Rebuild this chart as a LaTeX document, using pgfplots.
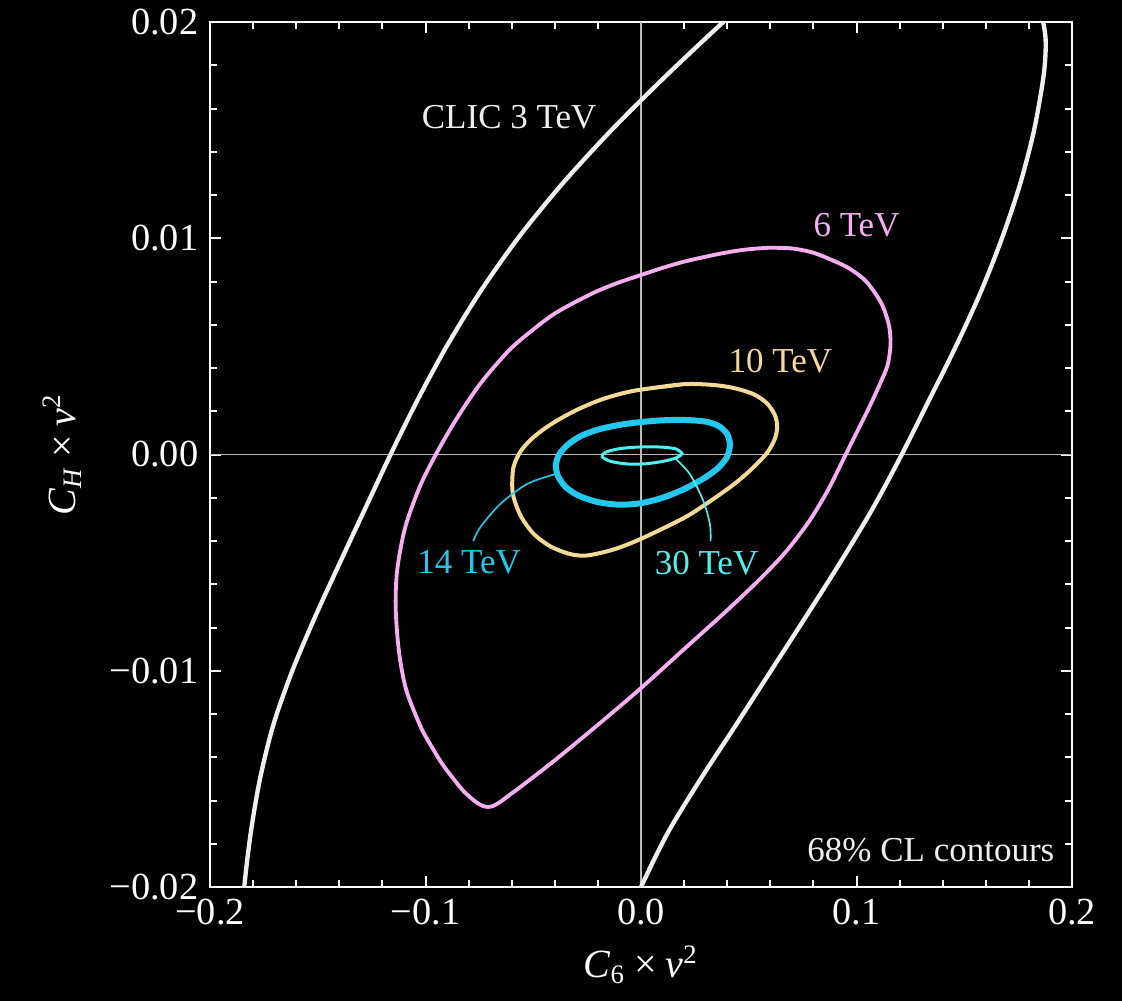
\documentclass[border=0pt]{standalone}
\usepackage{fontspec}
\setmainfont{Liberation Serif}
\usepackage{pgfplots}
\pgfplotsset{compat=1.18}
\definecolor{clic}{HTML}{EEEEEE}
\definecolor{six}{HTML}{F5AEF0}
\definecolor{ten}{HTML}{F5D996}
\definecolor{fourteen}{HTML}{22C8EE}
\definecolor{thirty}{HTML}{50F0F0}
\definecolor{gridc}{HTML}{BBBBBB}
\begin{document}
\begin{tikzpicture}
\path[fill=black, use as bounding box] (-63pt,-34.2pt) rectangle (273.6pt,266.1pt);
\begin{axis}[
  scale only axis, width=258.6pt, height=259.5pt,
  xmin=-0.2, xmax=0.2, ymin=-0.02, ymax=0.02,
  xtick={-0.2,-0.1,0,0.1,0.2},
  xticklabels={−0.2,−0.1,0.0,0.1,0.2},
  ytick={-0.02,-0.01,0,0.01,0.02},
  yticklabels={−0.02,−0.01,0.00,0.01,0.02},
  minor x tick num=4, minor y tick num=4,
  tick align=inside,
  major tick length=3.3pt, minor tick length=2.1pt,
  every tick/.style={white, line width=0.6pt},
  axis line style={white, line width=0.8pt},
  every tick label/.append style={white, font=\fontsize{11.5}{13}\selectfont},
  every axis x label/.style={at={(axis description cs:0.5,-0.0902)}, anchor=center, white, font=\fontsize{12}{14}\selectfont},
  every axis y label/.style={at={(axis description cs:-0.1717,0.5)}, rotate=90, anchor=center, white, font=\fontsize{12}{14}\selectfont},
  xlabel={\textit{C}\textsubscript{6}\hspace{0.22em}×\hspace{0.22em}\textit{v}\textsuperscript{2}},
  ylabel={\textit{C}\textsubscript{\textit{H}}\hspace{0.22em}×\hspace{0.22em}\textit{v}\textsuperscript{2}},
  clip=true,
]
% zero lines
\addplot[gridc, line width=0.45pt] coordinates {(0,-0.02) (0,0.02)};
\addplot[gridc, line width=0.45pt] coordinates {(-0.2,0) (0.2,0)};

% CLIC 3 TeV, left branch
\addplot[clic, line width=1.3pt, smooth] coordinates {
(-0.1860,-0.0225) (-0.1841,-0.0200) (-0.1811,-0.0175) (-0.1768,-0.0150) (-0.1706,-0.0125)
(-0.1618,-0.0100) (-0.1512,-0.0075) (-0.1397,-0.0050) (-0.1280,-0.0025) (-0.1162,0.0000)
(-0.1038,0.0025) (-0.0902,0.0050) (-0.0748,0.0075) (-0.0571,0.0100) (-0.0367,0.0125)
(-0.0137,0.0150) (0.0115,0.0175) (0.0382,0.0200) (0.0660,0.0225)
};
% CLIC 3 TeV, right branch
\addplot[clic, line width=1.3pt, smooth] coordinates {
(0.1810,0.0225) (0.1866,0.0200) (0.1878,0.0190) (0.1868,0.0175) (0.1824,0.0150)
(0.1759,0.0125) (0.1675,0.0100) (0.1576,0.0075) (0.1461,0.0050) (0.1336,0.0025)
(0.1210,0.0000) (0.1075,-0.0025) (0.0924,-0.0050) (0.0765,-0.0075) (0.0603,-0.0100)
(0.0441,-0.0125) (0.0277,-0.0150) (0.0124,-0.0175) (0.0000,-0.0200) (-0.0110,-0.0225)
};

% 6 TeV
\addplot[six, line width=1.15pt, smooth] coordinates {
(0.0597,0.00956) (0.0700,0.00953) (0.0800,0.00933) (0.0900,0.00893) (0.0967,0.00860)
(0.1045,0.00800) (0.1115,0.00700) (0.1150,0.00600) (0.1158,0.00520) (0.1153,0.00460)
(0.1140,0.00400) (0.1097,0.00300) (0.1050,0.00200) (0.1000,0.00100) (0.0950,0.00000)
(0.0870,-0.00160) (0.0780,-0.00309) (0.0670,-0.00452) (0.0550,-0.00578) (0.0400,-0.00720)
(0.0200,-0.00900) (0.0000,-0.01080) (-0.0200,-0.01250) (-0.0400,-0.01414) (-0.0550,-0.01530)
(-0.0600,-0.01567) (-0.0640,-0.01597) (-0.0670,-0.01617) (-0.0695,-0.01628) (-0.0720,-0.01629)
(-0.0745,-0.01620) (-0.0775,-0.01600) (-0.0824,-0.01556) (-0.0870,-0.01500) (-0.0923,-0.01430)
(-0.0975,-0.01345) (-0.1022,-0.01260) (-0.1089,-0.01090) (-0.1122,-0.00920) (-0.1138,-0.00720)
(-0.1132,-0.00540) (-0.1095,-0.00340) (-0.1027,-0.00150) (-0.0952,0.00000) (-0.0856,0.00165)
(-0.0743,0.00331) (-0.0611,0.00483) (-0.0500,0.00578) (-0.0392,0.00657) (-0.0226,0.00745)
(-0.0110,0.00793) (0.0000,0.00830) (0.0100,0.00863) (0.0209,0.00894) (0.0364,0.00928)
(0.0480,0.00947) (0.0597,0.00956) (0.0700,0.00953)
};

% 10 TeV
\addplot[ten, line width=1.2pt, smooth] coordinates {
(0.0000,0.00300) (0.0196,0.00325) (0.0330,0.00322) (0.0428,0.00308) (0.0520,0.00280)
(0.0583,0.00238) (0.0620,0.00185) (0.0632,0.00130) (0.0620,0.00070) (0.0583,0.00005)
(0.0510,-0.00070) (0.0428,-0.00140) (0.0300,-0.00230) (0.0196,-0.00295) (0.0000,-0.00390)
(-0.0130,-0.00440) (-0.0252,-0.00467) (-0.0330,-0.00460) (-0.0420,-0.00425) (-0.0500,-0.00365)
(-0.0560,-0.00280) (-0.0595,-0.00180) (-0.0595,-0.00080) (-0.0582,-0.00030) (-0.0555,0.00020)
(-0.0510,0.00070) (-0.0450,0.00118) (-0.0376,0.00165) (-0.0290,0.00210) (-0.0190,0.00252)
(-0.0090,0.00282) (0.0000,0.00300) (0.0196,0.00325)
};

% 14 TeV
\addplot[fourteen, line width=1.8pt, smooth] coordinates {
(0.0413,0.00050) (0.0400,0.00095) (0.0360,0.00132) (0.0300,0.00152) (0.0200,0.00160)
(0.0100,0.00158) (0.0000,0.00150) (-0.0100,0.00137) (-0.0200,0.00115) (-0.0280,0.00085)
(-0.0340,0.00045) (-0.0380,0.00000) (-0.0395,-0.00050) (-0.0385,-0.00100) (-0.0350,-0.00150)
(-0.0290,-0.00190) (-0.0200,-0.00220) (-0.0100,-0.00232) (0.0000,-0.00225) (0.0100,-0.00200)
(0.0200,-0.00160) (0.0300,-0.00105) (0.0360,-0.00060) (0.0400,-0.00010) (0.0413,0.00050)
(0.0400,0.00095)
};

% 30 TeV
\addplot[thirty, line width=0.9pt, smooth] coordinates {
(0.0190,0.00005) (0.0165,0.00025) (0.0100,0.00034) (0.0000,0.00035) (-0.0100,0.00027)
(-0.0165,0.00010) (-0.0180,-0.00010) (-0.0140,-0.00032) (-0.0060,-0.00044) (0.0020,-0.00043)
(0.0100,-0.00032) (0.0165,-0.00015) (0.0190,0.00005) (0.0165,0.00025)
};

% leader lines
\addplot[fourteen, line width=0.5pt, smooth] coordinates {
(-0.0399,-0.00091) (-0.0530,-0.00137) (-0.0654,-0.00230) (-0.0747,-0.00338) (-0.0778,-0.00400)
};
\addplot[thirty, line width=0.5pt, smooth] coordinates {
(0.0158,-0.00017) (0.0227,-0.00091) (0.0289,-0.00214) (0.0320,-0.00323) (0.0323,-0.00400)
};

% labels
\node[clic, inner sep=0, font=\fontsize{10.5}{12}\selectfont] at (axis cs:-0.0612,0.0156) {CLIC 3 TeV};
\node[six, inner sep=0, font=\fontsize{10.5}{12}\selectfont] at (axis cs:0.1000,0.0106) {6 TeV};
\node[ten, inner sep=0, font=\fontsize{10.5}{12}\selectfont] at (axis cs:0.0647,0.0043) {10 TeV};
\node[fourteen, inner sep=0, font=\fontsize{10.5}{12}\selectfont] at (axis cs:-0.0798,-0.0050) {14 TeV};
\node[thirty, inner sep=0, font=\fontsize{10.5}{12}\selectfont] at (axis cs:0.0304,-0.0050) {30 TeV};
\node[clic, inner sep=0, anchor=east, font=\fontsize{10.5}{12}\selectfont] at (axis cs:0.1921,-0.01827) {68\% CL contours};
\end{axis}
\end{tikzpicture}
\end{document}
